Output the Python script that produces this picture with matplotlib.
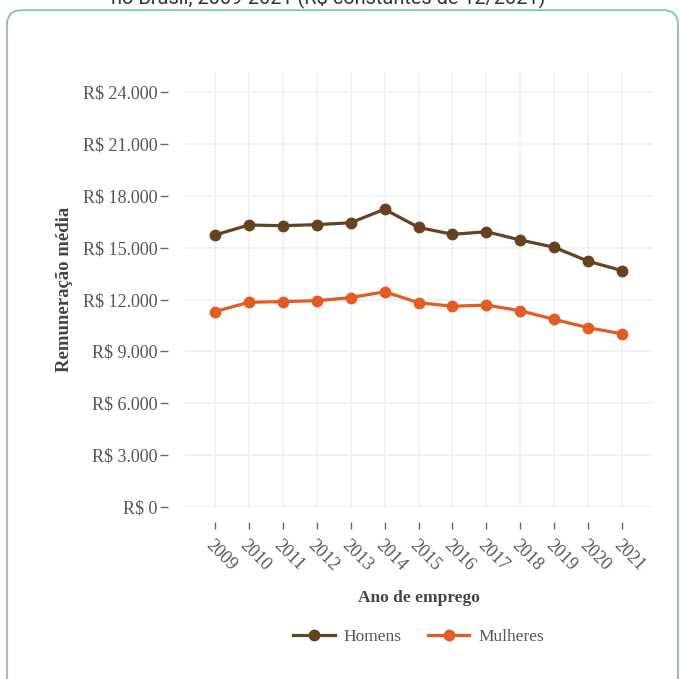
import matplotlib
matplotlib.use("Agg")
import matplotlib.pyplot as plt
from matplotlib.patches import FancyBboxPatch

# data
anos = [2009, 2010, 2011, 2012, 2013, 2014, 2015, 2016, 2017, 2018, 2019, 2020, 2021]
homens = [15730, 16310, 16270, 16330, 16440, 17220, 16170, 15770, 15920, 15440, 15020, 14210, 13670]
mulheres = [11300, 11840, 11880, 11930, 12110, 12450, 11820, 11610, 11680, 11350, 10850, 10370, 10010]
yticks = [0, 3000, 6000, 9000, 12000, 15000, 18000, 21000, 24000]
ytick_labels = ["R$ 0", "R$ 3.000", "R$ 6.000", "R$ 9.000", "R$ 12.000",
                "R$ 15.000", "R$ 18.000", "R$ 21.000", "R$ 24.000"]

cor_h = "#654321"
cor_m = "#e35b25"
grid_c = "#eef0f7"
serif = ["Liberation Serif", "DejaVu Serif"]

fig = plt.figure(figsize=(6.8, 6.79), dpi=100)
ax = fig.add_axes([0.272, 0.2533, 0.687, 0.6407])

# rounded frame around the chart
box = FancyBboxPatch((0.0103, -0.05), 0.9867, 1.035,
                     boxstyle="round,pad=0,rounding_size=0.022",
                     transform=fig.transFigure, facecolor="white",
                     edgecolor="#86c2ac", linewidth=1.3, zorder=-1)
fig.patches.append(box)

fig.text(0.482, 1 - 3 / 679, "no Brasil, 2009-2021 (R$ constantes de 12/2021)",
         ha="center", va="baseline", fontsize=14.4, color="#333333",
         family=["Roboto", "DejaVu Sans"])

ax.plot(anos, homens, color=cor_h, lw=2.3, marker="o", ms=7.5, label="Homens", zorder=3)
ax.plot(anos, mulheres, color=cor_m, lw=2.3, marker="o", ms=7.5, label="Mulheres", zorder=3)

ax.set_xlim(2008.12, 2021.88)
ax.set_ylim(0, 25160)
ax.set_xticks(anos)
ax.set_yticks(yticks)
ax.set_yticklabels(ytick_labels)
ax.set_xticklabels([str(a) for a in anos])

ax.grid(True, color=grid_c, lw=1.2)
ax.set_axisbelow(True)
for s in ["top", "right"]:
    ax.spines[s].set_visible(False)
ax.spines["left"].set_position(("outward", 12.2))
ax.spines["bottom"].set_position(("outward", 10.8))
ax.spines["left"].set_color("none")
ax.spines["bottom"].set_color("none")
ax.axhline(0, color=grid_c, lw=2, zorder=1)

ax.tick_params(axis="y", length=5.5, width=1, color="#666666", pad=2,
               labelsize=13, labelcolor="#555555")
ax.tick_params(axis="x", length=5, width=1, color="#666666", pad=6,
               labelsize=13, labelcolor="#555555")
for lab in ax.get_yticklabels():
    lab.set_family(serif)
for lab in ax.get_xticklabels():
    lab.set_family(serif)
    lab.set_rotation(-45)
    lab.set_ha("left")
    lab.set_va("top")
    lab.set_rotation_mode("anchor")

ax.set_ylabel("Remuneração média", family=serif, fontweight="bold",
              fontsize=13.5, color="#444444")
ax.set_xlabel("Ano de emprego", family=serif, fontweight="bold",
              fontsize=12.5, color="#444444")
ax.yaxis.set_label_coords(-0.257, 0.5)
ax.yaxis.label.set_va("center")
ax.xaxis.set_label_coords(0.5, -0.209)
ax.xaxis.label.set_va("center")

leg = ax.legend(loc="center", bbox_to_anchor=(0.5, -0.299), ncol=2, frameon=False,
                prop={"family": serif, "size": 12.5}, handlelength=2.4,
                columnspacing=1.5, handletextpad=0.5)
for t in leg.get_texts():
    t.set_color("#555555")

fig.savefig("out.png", dpi=100)
